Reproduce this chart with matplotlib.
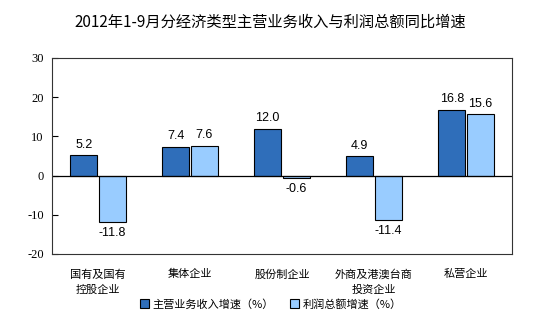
import matplotlib
matplotlib.use("Agg")
import matplotlib.pyplot as plt
import numpy as np
from matplotlib.patches import Patch

plt.rcParams['font.family'] = ['Noto Sans CJK SC', 'DejaVu Sans']

categories = ["国有及国有\n控股企业", "集体企业", "股份制企业", "外商及港澳台商\n投资企业", "私营企业"]
revenue = [5.2, 7.4, 12.0, 4.9, 16.8]
profit = [-11.8, 7.6, -0.6, -11.4, 15.6]
series_names = ["主营业务收入增速（%）", "利润总额增速（%）"]
yticks = [-20, -10, 0, 10, 20, 30]

c_dark = "#2F6EBA"
c_light = "#99CCFF"

fig = plt.figure(figsize=(5.41, 3.24), dpi=100)
ax = fig.add_axes([52/541, 1-254/324, 460/541, 196/324])

x = np.arange(len(categories))
w = 0.29
off = 0.155
b1 = ax.bar(x - off, revenue, w, color=c_dark, edgecolor="black", linewidth=0.8)
b2 = ax.bar(x + off, profit, w, color=c_light, edgecolor="black", linewidth=0.8)

for bars, vals in ((b1, revenue), (b2, profit)):
    for r, v in zip(bars, vals):
        cx = r.get_x() + r.get_width()/2
        if v >= 0:
            ax.text(cx, v + 1.2, f"{v:.1f}", ha="center", va="bottom",
                    fontsize=9, family="Liberation Sans")
        else:
            ax.text(cx, v - 1.2, f"{v:.1f}", ha="center", va="top",
                    fontsize=9, family="Liberation Sans")

ax.set_xlim(-0.5, len(categories) - 0.5)
ax.set_ylim(-20, 30)
ax.set_yticks(yticks)
ax.set_yticklabels([str(t) for t in yticks], family="Liberation Serif", fontsize=9)
ax.tick_params(axis="y", direction="in", length=4, width=0.8, pad=6)
ax.set_xticks(x)
ax.set_xticklabels(categories, fontsize=8, linespacing=1.6)
ax.tick_params(axis="x", length=0, pad=11)
ax.axhline(0, color="black", linewidth=0.9)
for s in ax.spines.values():
    s.set_linewidth(0.8)
    s.set_color("#333333")

fig.text(0.5, 1-22/324, "2012年1-9月分经济类型主营业务收入与利润总额同比增速",
         ha="center", va="center", fontsize=11)

handles = [Patch(facecolor=c_dark, edgecolor="black", linewidth=0.8),
           Patch(facecolor=c_light, edgecolor="black", linewidth=0.8)]
fig.legend(handles, series_names, loc="center", bbox_to_anchor=(0.5, 1-304/324),
           ncol=2, frameon=False, fontsize=8, handlelength=0.8, handleheight=0.8,
           handletextpad=0.3, columnspacing=1.5)

fig.savefig("out.png", dpi=100)
